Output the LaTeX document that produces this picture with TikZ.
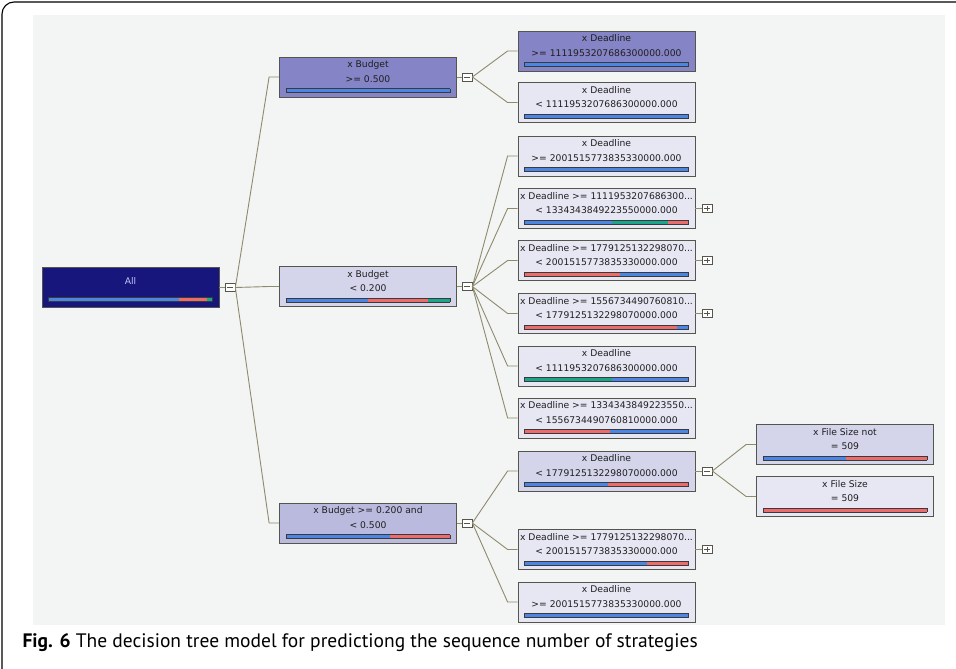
\documentclass[tikz,border=0pt]{standalone}
\usepackage{fontspec}
\setmainfont{DejaVu Sans}
\newfontfamily\capfont{PT Sans}
\usetikzlibrary{positioning}

\definecolor{panel}{HTML}{F3F4F4}
\definecolor{rootfill}{HTML}{16167C}
\definecolor{roottext}{HTML}{C4C4F2}
\definecolor{purplefill}{HTML}{8484C6}
\definecolor{midfill}{HTML}{BABADF}
\definecolor{lightfill}{HTML}{D4D4EB}
\definecolor{palefill}{HTML}{E7E7F4}
\definecolor{nodeline}{HTML}{55554C}
\definecolor{linkcol}{HTML}{8E8B6C}
\definecolor{barblue}{HTML}{4B86E4}
\definecolor{barred}{HTML}{EC6B6B}
\definecolor{bargreen}{HTML}{1AA68A}
\definecolor{barline}{HTML}{3A3A3A}

% bar inside a node: \dtbar[gap]{\seg{colour}{width}...}
\newcommand{\seg}[2]{{\color{#1}\rule{#2pt}{3.4pt}}}
\newcommand{\dtbar}[2][-1pt]{\\[#1]{\setlength{\fboxsep}{0pt}\setlength{\fboxrule}{0.6pt}\fcolorbox{barline}{white}{#2}}}
\newcommand{\nl}{\\[3.5pt]}

\begin{document}
\begin{tikzpicture}[x=1pt, y=-1pt,
  dtnode/.style={draw=nodeline, line width=0.8pt, minimum width=177pt, minimum height=40pt,
    inner sep=1pt, align=center, text=black!88, font=\fontsize{9.2}{11}\selectfont},
  expbox/.style={draw=nodeline, fill=white, line width=0.7pt, minimum width=10pt,
    minimum height=8pt, inner sep=0pt},
  expminus/.style={expbox, path picture={
    \draw[line width=0.7pt] ([xshift=2pt]path picture bounding box.west) -- ([xshift=-2pt]path picture bounding box.east);}},
  expplus/.style={expbox, path picture={
    \draw[line width=0.7pt] ([xshift=2pt]path picture bounding box.west) -- ([xshift=-2pt]path picture bounding box.east);
    \draw[line width=0.7pt] ([yshift=-1.5pt]path picture bounding box.north) -- ([yshift=1.5pt]path picture bounding box.south);}},
  link/.style={draw=linkcol, line width=0.9pt}]
  \useasboundingbox (0,0) rectangle (956,669);
  % Frame and panel
  \draw[line width=1.1pt, rounded corners=12pt] (2,680) -- (2,2) -- (970,2);
  \fill[panel] (33,15) rectangle (945,625);
  % Root
  \node[dtnode, fill=rootfill, text=roottext] (root) at (130.5,287.5)
    {\rule{0pt}{11pt}All\dtbar[6pt]{\seg{barblue}{130}\seg{barred}{28}\seg{bargreen}{5}}};
  \node[expminus] (e0) at (230,287.5) {};
  % Budget
  \node[dtnode, fill=purplefill] (b1) at (368,77)
    {x Budget\nl>= 0.500\dtbar{\seg{barblue}{163}}};
  \node[dtnode, fill=lightfill] (b2) at (368,286.5)
    {x Budget\nl< 0.200\dtbar{\seg{barblue}{81}\seg{barred}{60}\seg{bargreen}{22}}};
  \node[dtnode, fill=midfill] (b3) at (368,523)
    {x Budget >= 0.200 and\nl< 0.500\dtbar{\seg{barblue}{103}\seg{barred}{60}}};
  \node[expminus] (e1) at (467,77) {};
  \node[expminus] (e2) at (467,286.5) {};
  \node[expminus] (e3) at (467,523) {};
  % Deadline
  \node[dtnode, fill=purplefill] (d1) at (606.5,51)
    {x Deadline\nl>= 1111953207686300000.000\dtbar{\seg{barblue}{163}}};
  \node[dtnode, fill=palefill] (d2) at (606.5,102.5)
    {x Deadline\nl< 1111953207686300000.000\dtbar{\seg{barblue}{163}}};
  \node[dtnode, fill=palefill] (d3) at (606.5,156)
    {x Deadline\nl>= 2001515773835330000.000\dtbar{\seg{barblue}{163}}};
  \node[dtnode, fill=palefill] (d4) at (606.5,208.5)
    {x Deadline >= 1111953207686300...\nl< 1334343849223550000.000\dtbar{\seg{barblue}{87}\seg{bargreen}{56}\seg{barred}{20}}};
  \node[dtnode, fill=palefill] (d5) at (606.5,260.5)
    {x Deadline >= 1779125132298070...\nl< 2001515773835330000.000\dtbar{\seg{barred}{95}\seg{barblue}{68}}};
  \node[dtnode, fill=palefill] (d6) at (606.5,313.5)
    {x Deadline >= 1556734490760810...\nl< 1779125132298070000.000\dtbar{\seg{barred}{152}\seg{barblue}{11}}};
  \node[dtnode, fill=palefill] (d7) at (606.5,366)
    {x Deadline\nl< 1111953207686300000.000\dtbar{\seg{bargreen}{87}\seg{barblue}{76}}};
  \node[dtnode, fill=palefill] (d8) at (606.5,418)
    {x Deadline >= 1334343849223550...\nl< 1556734490760810000.000\dtbar{\seg{barred}{85}\seg{barblue}{78}}};
  \node[dtnode, fill=lightfill] (d9) at (606.5,471)
    {x Deadline\nl< 1779125132298070000.000\dtbar{\seg{barblue}{83}\seg{barred}{80}}};
  \node[dtnode, fill=palefill] (d10) at (606.5,549.5)
    {x Deadline >= 1779125132298070...\nl< 2001515773835330000.000\dtbar{\seg{barblue}{122}\seg{barred}{41}}};
  \node[dtnode, fill=palefill] (d11) at (606.5,602)
    {x Deadline\nl>= 2001515773835330000.000\dtbar{\seg{barblue}{163}}};
  \node[expplus] (p4) at (707,208.5) {};
  \node[expplus] (p5) at (707,260.5) {};
  \node[expplus] (p6) at (707,313.5) {};
  \node[expminus] (e4) at (707,471) {};
  \node[expplus] (p10) at (707,549.5) {};
  % File Size
  \node[dtnode, fill=lightfill] (f1) at (845,444.5)
    {x File Size not\nl= 509\dtbar{\seg{barblue}{82}\seg{barred}{81}}};
  \node[dtnode, fill=palefill] (f2) at (845,496.5)
    {x File Size\nl= 509\dtbar{\seg{barred}{163}}};
  % Links
  \foreach \n in {b1,b2,b3}
    \draw[link] (e0.east) -- ([xshift=-10pt]\n.west) -- (\n.west);
  \foreach \n in {d1,d2}
    \draw[link] (e1.east) -- ([xshift=-10pt]\n.west) -- (\n.west);
  \foreach \n in {d3,d4,d5,d6,d7,d8}
    \draw[link] (e2.east) -- ([xshift=-10pt]\n.west) -- (\n.west);
  \foreach \n in {d9,d10,d11}
    \draw[link] (e3.east) -- ([xshift=-10pt]\n.west) -- (\n.west);
  \foreach \n in {f1,f2}
    \draw[link] (e4.east) -- ([xshift=-10pt]\n.west) -- (\n.west);
  \draw[link] (root.east) -- (e0.west);
  \draw[link] (b1.east) -- (e1.west);
  \draw[link] (b2.east) -- (e2.west);
  \draw[link] (b3.east) -- (e3.west);
  \draw[link] (d9.east) -- (e4.west);
  \foreach \n/\p in {d4/p4,d5/p5,d6/p6,d10/p10}
    \draw[link] (\n.east) -- (\p.west);
  % Caption
  \node[anchor=west, font=\capfont\fontsize{19.5}{22}\selectfont] (cap) at (19,643)
    {\textbf{Fig. 6} The decision tree model for predictiong the sequence number of strategies};
\end{tikzpicture}
\end{document}
